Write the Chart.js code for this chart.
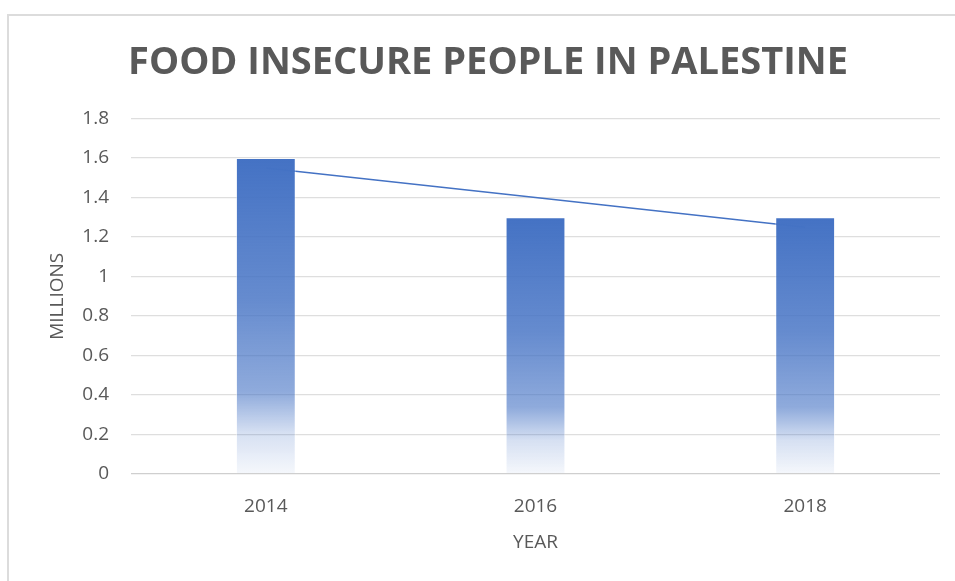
<!DOCTYPE html>
<html>
<head>
<meta charset="utf-8">
<script src="https://cdn.jsdelivr.net/npm/chart.js@4/dist/chart.umd.min.js"></script>
<style>
  html, body { margin: 0; padding: 0; background: #fff; }
  #frame {
    position: absolute; left: 7px; top: 14px; width: 948px; height: 567px;
    border-left: 2px solid #dcdcdc; border-top: 2px solid #dcdcdc;
  }
  #wrap { position: absolute; left: 0; top: 0; width: 955px; height: 581px; }
</style>
</head>
<body>
<div id="frame"></div>
<div id="wrap"><canvas id="chart"></canvas></div>
<script>
const years = ["2014", "2016", "2018"];
const foodInsecure = [1.6, 1.3, 1.3];
// linear trend line as drawn in the picture
const trend = [1.55, 1.4, 1.25];
const yTicks = [0, 0.2, 0.4, 0.6, 0.8, 1, 1.2, 1.4, 1.6, 1.8];

const BLUE = "#4472C4";
const GREY = "#595959";
const FONT = "'Open Sans', sans-serif";

function barFill(ctx) {
  const chart = ctx.chart;
  if (!chart.chartArea || !ctx.parsed) return BLUE;
  const y = chart.scales.y;
  const top = y.getPixelForValue(ctx.parsed.y);
  const base = y.getPixelForValue(0);
  const g = chart.ctx.createLinearGradient(0, top, 0, base);
  g.addColorStop(0, "rgba(68,114,196,1)");
  g.addColorStop(0.45, "rgba(68,114,196,0.82)");
  g.addColorStop(0.74, "rgba(68,114,196,0.6)");
  g.addColorStop(0.87, "rgba(68,114,196,0.22)");
  g.addColorStop(1, "rgba(68,114,196,0.05)");
  return g;
}

new Chart(document.getElementById("chart").getContext("2d"), {
  type: "bar",
  data: {
    labels: years,
    datasets: [
      {
        label: "Food insecure people",
        data: foodInsecure,
        backgroundColor: barFill,
        borderColor: "rgba(255,255,255,0.45)",
        borderWidth: 1,
        barPercentage: 0.222,
        categoryPercentage: 1,
        order: 0,
      },
      {
        type: "line",
        label: "Trend",
        data: trend,
        borderColor: BLUE,
        borderWidth: 1.5,
        pointRadius: 0,
        fill: false,
        order: 1,
      },
    ],
  },
  options: {
    responsive: true,
    maintainAspectRatio: false,
    animation: false,
    layout: { padding: { left: 36, right: 15, top: 0, bottom: 0 } },
    plugins: {
      legend: { display: false },
      tooltip: { enabled: false },
      title: {
        display: true,
        text: "FOOD INSECURE PEOPLE IN PALESTINE",
        color: GREY,
        font: { family: FONT, size: 38, weight: "bold", lineHeight: 1.2 },
        padding: { top: 40, bottom: 33 },
      },
    },
    scales: {
      x: {
        grid: { display: false, drawTicks: false },
        border: { display: false },
        ticks: { color: GREY, font: { family: FONT, size: 19 }, padding: 21 },
        title: {
          display: true, text: "YEAR", color: GREY,
          font: { family: FONT, size: 19, lineHeight: 1.2 },
          padding: { top: 0, bottom: 27 },
        },
        afterFit: (s) => { s.height = 107; },
      },
      y: {
        min: 0,
        max: 1.8,
        afterBuildTicks: (s) => { s.ticks = yTicks.map((v) => ({ value: v })); },
        grid: {
          drawTicks: false,
          color: (c) => (c.tick && c.tick.value === 0 ? "#cfcfcf" : "#dedede"),
          lineWidth: 1.3,
        },
        border: { display: false },
        ticks: {
          color: GREY,
          font: { family: FONT, size: 19 },
          padding: 22,
          callback: (v) => String(v),
        },
        title: {
          display: true, text: "MILLIONS", color: GREY,
          font: { family: FONT, size: 19, lineHeight: 1.2 },
          padding: { top: 10, bottom: 0 },
        },
        afterFit: (s) => { s.width = 95; },
      },
    },
  },
});
</script>
</body>
</html>
